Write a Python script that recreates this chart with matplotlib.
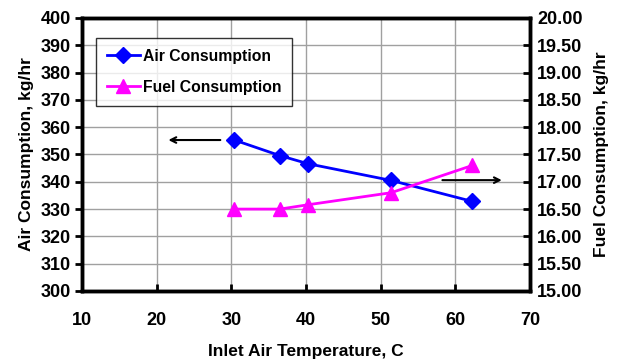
import matplotlib
matplotlib.use("Agg")
import matplotlib.pyplot as plt

plt.rcParams['font.family'] = ['Liberation Sans', 'DejaVu Sans']
plt.rcParams['font.weight'] = 'bold'

# Inlet air temperature, C
inlet_temp = [30.4, 36.5, 40.3, 51.4, 62.3]
# Air consumption, kg/hr (left axis)
air_consumption = [355.3, 349.6, 346.6, 340.5, 332.8]
# Fuel consumption, kg/hr (right axis)
fuel_consumption = [16.50, 16.50, 16.58, 16.80, 17.30]

x_ticks = [10, 20, 30, 40, 50, 60, 70]
air_ticks = [300, 310, 320, 330, 340, 350, 360, 370, 380, 390, 400]
fuel_ticks = [15.0, 15.5, 16.0, 16.5, 17.0, 17.5, 18.0, 18.5, 19.0, 19.5, 20.0]

fig = plt.figure(figsize=(6.24, 3.6), dpi=100)
ax = fig.add_axes([0.1314, 0.1917, 0.7179, 0.7583])
ax2 = ax.twinx()

ax.set_xlim(10, 70)
ax.set_ylim(300, 400)
ax2.set_ylim(15, 20)
ax.set_xticks(x_ticks)
ax.set_yticks(air_ticks)
ax2.set_yticks(fuel_ticks)
ax2.set_yticklabels([f'{v:.2f}' for v in fuel_ticks])

ax.grid(True, color='#a0a0a0', linewidth=1.0)
ax.set_axisbelow(True)

l1, = ax.plot(inlet_temp, air_consumption, color='#0000ff', lw=2,
              marker='D', ms=8, label='Air Consumption', zorder=3)
l2, = ax2.plot(inlet_temp, fuel_consumption, color='#ff00ff', lw=2,
               marker='^', ms=10, label='Fuel Consumption', zorder=3)

# arrows pointing each series to its axis
ax.annotate('', xy=(21.2, 355.3), xytext=(28.9, 355.3),
            arrowprops=dict(arrowstyle='->', color='black', lw=1.5))
ax.annotate('', xy=(66.6, 340.6), xytext=(57.9, 340.6),
            arrowprops=dict(arrowstyle='->', color='black', lw=1.5))

for a in (ax, ax2):
    for s in a.spines.values():
        s.set_linewidth(2.5)
        s.set_color('black')

ax.tick_params(axis='y', direction='out', length=5, width=2, labelsize=13, pad=3)
ax.tick_params(axis='x', direction='in', length=5, width=2, labelsize=13, pad=15)
ax2.tick_params(axis='y', direction='in', length=5, width=2, labelsize=13, pad=5)

ax.set_xlabel('Inlet Air Temperature, C', fontsize=12.5, fontweight='bold', labelpad=11)
ax.set_ylabel('Air Consumption, kg/hr', fontsize=12.5, fontweight='bold', labelpad=5)
ax2.set_ylabel('Fuel Consumption, kg/hr', fontsize=12.5, fontweight='bold', labelpad=8)

leg = ax.legend(handles=[l1, l2], loc='upper left', bbox_to_anchor=(0.031, 0.927),
                borderaxespad=0, fontsize=11.3, frameon=True, fancybox=False,
                edgecolor='black', handlelength=2.1, labelspacing=1.0,
                borderpad=0.7, handletextpad=0.2)
leg.get_frame().set_linewidth(1.0)
for t in leg.get_texts():
    t.set_fontweight('bold')

fig.savefig('out.png', dpi=100)
